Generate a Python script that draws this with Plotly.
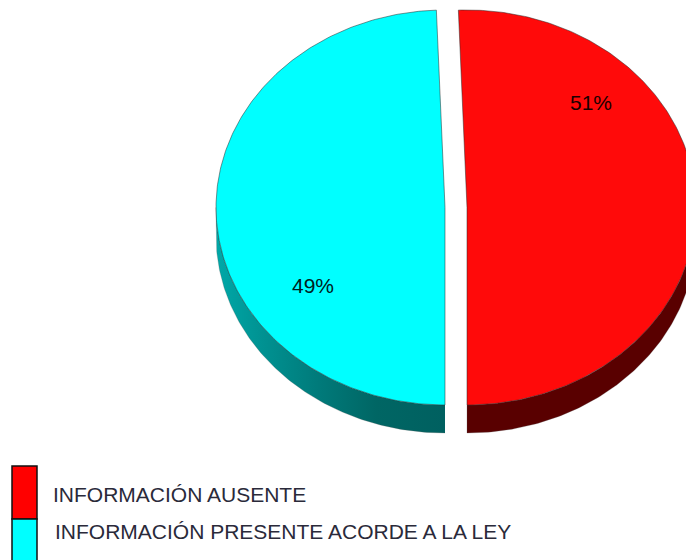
import numpy as np
import plotly.graph_objects as go

categories = ["INFORMACIÓN AUSENTE", "INFORMACIÓN PRESENTE ACORDE A LA LEY"]
values = [50.6, 49.4]
shown_percent = ["51%", "49%"]

W, H = 686, 560
RX, RY, DEPTH = 229, 197.5, 28
CY = 207.5
APEX_X = [467, 445]
TOP = ["#ff0a0a", "#00ffff"]
EDGE = "rgba(40,40,40,0.5)"


def pt(cx, a, dy=0):
    r = np.radians(a)
    return cx + RX * np.sin(r), CY - RY * np.cos(r) + dy


end_red = 180.0
start_red = end_red - 360 * values[0] / sum(values)
sweeps = [(start_red, end_red), (end_red, start_red + 360)]

fig = go.Figure()

# Side walls: the visible lower rim of each slice
for i, (a0, a1) in enumerate(sweeps):
    lo, hi = (90, 180) if i == 0 else (180, 270)
    a = np.linspace(lo, hi, 120)
    x1, y1 = pt(APEX_X[i], a)
    x2, y2 = pt(APEX_X[i], a[::-1], DEPTH)
    kw = dict(fillcolor="#590000") if i == 0 else dict(
        fillgradient=dict(
            type="horizontal",
            colorscale=[[0, "#00a8a8"], [0.2, "#009292"], [0.45, "#007a7a"],
                        [0.7, "#006664"], [1, "#006060"]],
        )
    )
    fig.add_trace(go.Scatter(
        x=np.r_[x1, x2], y=np.r_[y1, y2], mode="lines", fill="toself",
        line=dict(width=0.5, color="rgba(90,90,90,0.5)"),
        hoverinfo="skip", showlegend=False, **kw))

# Top faces
for i, (a0, a1) in enumerate(sweeps):
    a = np.linspace(a0, a1, 240)
    x, y = pt(APEX_X[i], a)
    fig.add_trace(go.Scatter(
        x=np.r_[APEX_X[i], x, APEX_X[i]], y=np.r_[CY, y, CY],
        mode="lines", fill="toself", fillcolor=TOP[i],
        line=dict(width=1, color=EDGE),
        name=categories[i], showlegend=False))

shapes = [
    dict(type="rect", x0=12, x1=37, y0=466, y1=519, fillcolor="#ff0000",
         line=dict(color="#111111", width=1.5)),
    dict(type="rect", x0=12, x1=37, y0=519, y1=566, fillcolor="#00ffff",
         line=dict(color="#111111", width=1.5)),
]
FONT = "Liberation Sans, Arial, sans-serif"
annotations = [
    dict(x=591, y=102, text=shown_percent[0], showarrow=False,
         font=dict(family=FONT, size=21, color="#1a0000")),
    dict(x=313, y=285, text=shown_percent[1], showarrow=False,
         font=dict(family=FONT, size=21, color="#002020")),
    dict(x=51, y=494, text=categories[0], showarrow=False, xanchor="left",
         font=dict(family=FONT, size=21, color="#2a2a3a")),
    dict(x=53, y=531, text=categories[1], showarrow=False, xanchor="left",
         font=dict(family=FONT, size=21, color="#2a2a3a")),
]

fig.update_layout(
    width=W, height=H, margin=dict(l=0, r=0, t=0, b=0),
    paper_bgcolor="white", plot_bgcolor="white", showlegend=False,
    xaxis=dict(range=[0, W], visible=False, fixedrange=True),
    yaxis=dict(range=[H, 0], visible=False, fixedrange=True),
    shapes=shapes, annotations=annotations,
)
fig.write_html("out.html", config={"displayModeBar": False},
               post_script="document.body.style.margin='0';")
